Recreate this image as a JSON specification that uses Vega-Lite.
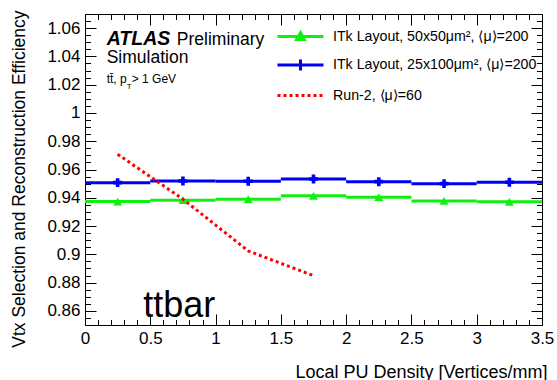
{
  "$schema": "https://vega.github.io/schema/vega-lite/v6.json",
  "width": 457,
  "height": 311,
  "autosize": "none",
  "padding": {"left": 85, "top": 14, "right": 15, "bottom": 55},
  "config": {
    "view": {"stroke": null},
    "font": "Liberation Sans",
    "axis": {"grid": false, "domainColor": "#000", "tickColor": "#000", "labelColor": "#000", "titleColor": "#000", "labelFont": "Liberation Sans", "titleFont": "Liberation Sans", "titleFontWeight": "normal", "labelOverlap": false, "labelFlush": false, "domainWidth": 1, "tickWidth": 1}
  },
  "datasets": {
    "eff": [
      {"series": "ITk Layout, 50x50μm², ⟨μ⟩=200", "lo": 0.0, "hi": 0.5, "density": 0.25, "efficiency": 0.9373},
      {"series": "ITk Layout, 50x50μm², ⟨μ⟩=200", "lo": 0.5, "hi": 1.0, "density": 0.75, "efficiency": 0.9383},
      {"series": "ITk Layout, 50x50μm², ⟨μ⟩=200", "lo": 1.0, "hi": 1.5, "density": 1.25, "efficiency": 0.9390},
      {"series": "ITk Layout, 50x50μm², ⟨μ⟩=200", "lo": 1.5, "hi": 2.0, "density": 1.75, "efficiency": 0.9414},
      {"series": "ITk Layout, 50x50μm², ⟨μ⟩=200", "lo": 2.0, "hi": 2.5, "density": 2.25, "efficiency": 0.9404},
      {"series": "ITk Layout, 50x50μm², ⟨μ⟩=200", "lo": 2.5, "hi": 3.0, "density": 2.75, "efficiency": 0.9378},
      {"series": "ITk Layout, 50x50μm², ⟨μ⟩=200", "lo": 3.0, "hi": 3.5, "density": 3.25, "efficiency": 0.9371},
      {"series": "ITk Layout, 25x100μm², ⟨μ⟩=200", "lo": 0.0, "hi": 0.5, "density": 0.25, "efficiency": 0.9507},
      {"series": "ITk Layout, 25x100μm², ⟨μ⟩=200", "lo": 0.5, "hi": 1.0, "density": 0.75, "efficiency": 0.9519},
      {"series": "ITk Layout, 25x100μm², ⟨μ⟩=200", "lo": 1.0, "hi": 1.5, "density": 1.25, "efficiency": 0.9517},
      {"series": "ITk Layout, 25x100μm², ⟨μ⟩=200", "lo": 1.5, "hi": 2.0, "density": 1.75, "efficiency": 0.9533},
      {"series": "ITk Layout, 25x100μm², ⟨μ⟩=200", "lo": 2.0, "hi": 2.5, "density": 2.25, "efficiency": 0.9514},
      {"series": "ITk Layout, 25x100μm², ⟨μ⟩=200", "lo": 2.5, "hi": 3.0, "density": 2.75, "efficiency": 0.9500},
      {"series": "ITk Layout, 25x100μm², ⟨μ⟩=200", "lo": 3.0, "hi": 3.5, "density": 3.25, "efficiency": 0.9510},
      {"series": "Run-2, ⟨μ⟩=60", "lo": 0.0, "hi": 0.5, "density": 0.25, "efficiency": 0.9708},
      {"series": "Run-2, ⟨μ⟩=60", "lo": 0.5, "hi": 1.0, "density": 0.75, "efficiency": 0.9390},
      {"series": "Run-2, ⟨μ⟩=60", "lo": 1.0, "hi": 1.5, "density": 1.25, "efficiency": 0.9024},
      {"series": "Run-2, ⟨μ⟩=60", "lo": 1.5, "hi": 2.0, "density": 1.75, "efficiency": 0.8849}
    ]
  },
  "data": {"name": "eff"},
  "resolve": {"axis": {"x": "independent", "y": "independent"}},
  "layer": [
    {
      "transform": [{"filter": "datum.series !== 'Run-2, ⟨μ⟩=60'"}],
      "mark": {"type": "rule", "strokeWidth": 3, "strokeCap": "butt"},
      "encoding": {
        "x": {"field": "lo", "type": "quantitative", "scale": {"domain": [0, 3.5], "nice": false, "zero": false},
          "axis": {"orient": "bottom", "values": [0,0.5,1,1.5,2,2.5,3,3.5],
            "labelExpr": "toString(datum.value)",
            "tickSize": -11,
            "labelPadding": 16, "labelFontSize": 17,
            "title": "Local PU Density [Vertices/mm]", "titleFontSize": 18, "titleX": 462, "titleY": 52, "titleAlign": "right", "titleAnchor": "end", "titleBaseline": "alphabetic"}},
        "x2": {"field": "hi"},
        "y": {"field": "efficiency", "type": "quantitative", "scale": {"domain": [0.85, 1.07], "nice": false, "zero": false},
          "axis": {"orient": "left", "values": [0.86,0.88,0.9,0.92,0.94,0.96,0.98,1,1.02,1.04,1.06],
            "labelExpr": "toString(datum.value)",
            "tickSize": -11,
            "labelPadding": 16, "labelFontSize": 17,
            "title": "Vtx Selection and Reconstruction Efficiency", "titleFontSize": 17.5, "titleX": -61, "titleY": -4, "titleAlign": "right", "titleAnchor": "end", "titleBaseline": "alphabetic", "titleAngle": -90}},
        "color": {"field": "series", "type": "nominal",
          "scale": {"domain": ["ITk Layout, 50x50μm², ⟨μ⟩=200", "ITk Layout, 25x100μm², ⟨μ⟩=200", "Run-2, ⟨μ⟩=60"], "range": ["#10f010", "#0000f0", "#ff0000"]},
          "legend": {"orient": "none", "legendX": 192, "legendY": 11, "title": null, "padding": 0,
            "symbolSize": 400, "symbolOffset": 12, "labelFontSize": 14.2, "labelFont": "Liberation Sans", "labelColor": "#000", "labelOffset": 21, "rowPadding": 7.5, "labelLimit": 300,
            "encode": {"symbols": {"update": {
              "shape": {"signal": "datum.index == 0 ? 'M-2.3,0H2.3M-0.38,0.3L0.38,0.3L0,-0.38Z' : datum.index == 1 ? 'M-2.3,0H2.3M0,-0.55V0.55' : 'M-2.3,0H2.3'"},
              "fill": {"signal": "datum.index == 0 ? '#10f010' : datum.index == 1 ? '#0000f0' : 'transparent'"},
              "stroke": {"signal": "datum.index == 0 ? '#10f010' : datum.index == 1 ? '#0000f0' : '#ff0000'"},
              "strokeWidth": {"value": 3},
              "strokeDash": {"signal": "datum.index == 2 ? [3, 3] : [1, 0]"},
              "size": {"value": 400},
              "opacity": {"value": 1}
            }}}}}
      }
    },
    {
      "transform": [{"filter": "datum.series !== 'Run-2, ⟨μ⟩=60'"}],
      "mark": {"type": "point", "filled": true, "opacity": 1},
      "encoding": {
        "x": {"field": "density", "type": "quantitative",
          "axis": {"orient": "top", "values": [0,0.5,1,1.5,2,2.5,3,3.5], "labels": false, "title": null, "tickSize": -11}},
        "y": {"field": "efficiency", "type": "quantitative",
          "axis": {"orient": "right", "values": [0.86,0.88,0.9,0.92,0.94,0.96,0.98,1,1.02,1.04,1.06], "labels": false, "title": null, "tickSize": -11}},
        "color": {"field": "series", "type": "nominal"},
        "shape": {"field": "series", "type": "nominal", "scale": {"domain": ["ITk Layout, 50x50μm², ⟨μ⟩=200", "ITk Layout, 25x100μm², ⟨μ⟩=200"], "range": ["triangle-up", "cross"]}, "legend": null},
        "size": {"value": 80}
      }
    },
    {
      "transform": [{"filter": "datum.series === 'Run-2, ⟨μ⟩=60'"}],
      "mark": {"type": "line", "strokeWidth": 3, "strokeDash": [3, 3]},
      "encoding": {
        "x": {"field": "density", "type": "quantitative",
          "axis": {"orient": "bottom", "values": [0.1,0.2,0.3,0.4,0.6,0.7,0.8,0.9,1.1,1.2,1.3,1.4,1.6,1.7,1.8,1.9,2.1,2.2,2.3,2.4,2.6,2.7,2.8,2.9,3.1,3.2,3.3,3.4], "labels": false, "title": null, "domain": false, "tickSize": -5.5}},
        "y": {"field": "efficiency", "type": "quantitative",
          "axis": {"orient": "left", "values": [0.855,0.865,0.87,0.875,0.885,0.89,0.895,0.905,0.91,0.915,0.925,0.93,0.935,0.945,0.95,0.955,0.965,0.97,0.975,0.985,0.99,0.995,1.005,1.01,1.015,1.025,1.03,1.035,1.045,1.05,1.055,1.065], "labels": false, "title": null, "domain": false, "tickSize": -5.5}},
        "color": {"field": "series", "type": "nominal"}
      }
    },
    {
      "data": {"values": [{"note": "ATLAS"}]},
      "mark": {"type": "text", "fontSize": 19.5, "fontWeight": "bold", "fontStyle": "italic", "align": "left", "baseline": "alphabetic", "color": "#000"},
      "encoding": {
        "x": {"datum": 0.166, "type": "quantitative",
          "axis": {"orient": "top", "values": [0.1,0.2,0.3,0.4,0.6,0.7,0.8,0.9,1.1,1.2,1.3,1.4,1.6,1.7,1.8,1.9,2.1,2.2,2.3,2.4,2.6,2.7,2.8,2.9,3.1,3.2,3.3,3.4], "labels": false, "title": null, "domain": false, "tickSize": -5.5}},
        "y": {"datum": 1.0483, "type": "quantitative",
          "axis": {"orient": "right", "values": [0.855,0.865,0.87,0.875,0.885,0.89,0.895,0.905,0.91,0.915,0.925,0.93,0.935,0.945,0.95,0.955,0.965,0.97,0.975,0.985,0.99,0.995,1.005,1.01,1.015,1.025,1.03,1.035,1.045,1.05,1.055,1.065], "labels": false, "title": null, "domain": false, "tickSize": -5.5}},
        "text": {"field": "note"}}
    },
    {
      "data": {"values": [{"note": "Preliminary"}]},
      "mark": {"type": "text", "fontSize": 17.5, "align": "left", "baseline": "alphabetic", "color": "#000"},
      "encoding": {"x": {"datum": 0.703, "type": "quantitative", "axis": null}, "y": {"datum": 1.0483, "type": "quantitative", "axis": null}, "text": {"field": "note"}}
    },
    {
      "data": {"values": [{"note": "Simulation"}]},
      "mark": {"type": "text", "fontSize": 17.5, "align": "left", "baseline": "alphabetic", "color": "#000"},
      "encoding": {"x": {"datum": 0.166, "type": "quantitative", "axis": null}, "y": {"datum": 1.0356, "type": "quantitative", "axis": null}, "text": {"field": "note"}}
    },
    {
      "data": {"values": [{"note": "tt̄, p"}]},
      "mark": {"type": "text", "fontSize": 12, "align": "left", "baseline": "alphabetic", "color": "#000"},
      "encoding": {"x": {"datum": 0.166, "type": "quantitative", "axis": null}, "y": {"datum": 1.021, "type": "quantitative", "axis": null}, "text": {"field": "note"}}
    },
    {
      "data": {"values": [{"note": "T"}]},
      "mark": {"type": "text", "fontSize": 8, "align": "left", "baseline": "alphabetic", "color": "#000"},
      "encoding": {"x": {"datum": 0.319, "type": "quantitative", "axis": null}, "y": {"datum": 1.0167, "type": "quantitative", "axis": null}, "text": {"field": "note"}}
    },
    {
      "data": {"values": [{"note": "> 1 GeV"}]},
      "mark": {"type": "text", "fontSize": 12, "align": "left", "baseline": "alphabetic", "color": "#000"},
      "encoding": {"x": {"datum": 0.358, "type": "quantitative", "axis": null}, "y": {"datum": 1.021, "type": "quantitative", "axis": null}, "text": {"field": "note"}}
    },
    {
      "data": {"values": [{"note": "ttbar"}]},
      "mark": {"type": "text", "fontSize": 36, "align": "left", "baseline": "alphabetic", "color": "#000"},
      "encoding": {"x": {"datum": 0.4456, "type": "quantitative", "axis": null}, "y": {"datum": 0.856, "type": "quantitative", "axis": null}, "text": {"field": "note"}}
    }
  ]
}
